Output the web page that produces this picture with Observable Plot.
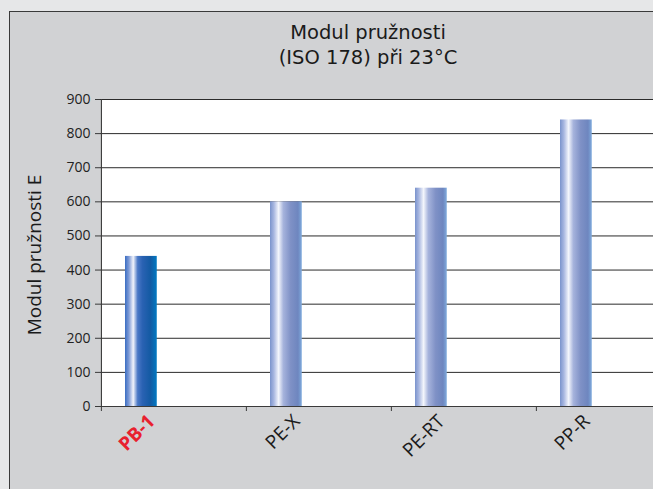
<!DOCTYPE html>
<html>
<head>
<meta charset="utf-8">
<script src="https://cdn.jsdelivr.net/npm/d3@7"></script>
<script src="https://cdn.jsdelivr.net/npm/@observablehq/plot@0.6"></script>
<style>
  html, body { margin: 0; padding: 0; width: 653px; height: 489px; overflow: hidden; background: #e6e7e8; font-family: "Open Sans", sans-serif; position: relative; }
  #panel { position: absolute; left: 9px; top: 11px; width: 720px; height: 520px; background: #d1d2d4; border: 1px solid #3a3a3a; }
  .title { position: absolute; left: 8px; width: 720px; text-align: center; font-family: "DejaVu Sans", sans-serif; font-size: 19.5px; line-height: 24px; height: 24px; color: #1a1a1a; white-space: nowrap; }
  #chart { position: absolute; left: 0; top: 0; }
  #chart svg { max-width: none !important; }
</style>
</head>
<body>
<div id="panel"></div>
<div class="title" style="top:21px;">Modul pružnosti</div>
<div class="title" style="top:46px;">(ISO 178) při 23°C</div>
<div id="chart"></div>
<script>
const categories = ["PB-1", "PE-X", "PE-RT", "PP-R"];
const values = [440, 600, 640, 840];
const yTicks = [0, 100, 200, 300, 400, 500, 600, 700, 800, 900];
const highlight = "PB-1";

const data = categories.map((c, i) => ({category: c, value: values[i]}));
const hi = data.filter(d => d.category === highlight);
const rest = data.filter(d => d.category !== highlight);

const W = 681, H = 489, mL = 100, mR = 0, mT = 99, mB = 83;
const bw = (W - mL - mR) / categories.length;
const barW = 32, barOff = 24;
const labelOpts = {x: "category", y: 0, text: "category", rotate: -45, textAnchor: "end", lineAnchor: "bottom", dx: -18, dy: 16, fontSize: 19};

const svg = Plot.plot({
  width: W, height: H,
  marginLeft: mL, marginRight: mR, marginTop: mT, marginBottom: mB,
  style: {background: "transparent", fontFamily: "Open Sans, sans-serif", overflow: "visible", maxWidth: "none"},
  x: {domain: categories, padding: 0},
  y: {domain: [0, 900]},
  marks: [
    Plot.frame({fill: "white", stroke: null}),
    Plot.gridY(yTicks, {stroke: "#2b2b2b", strokeOpacity: 1, strokeWidth: 1}),
    Plot.barY(hi, {x: "category", y: "value", fill: "url(#gradPB)", insetLeft: barOff, insetRight: bw - barOff - barW}),
    Plot.barY(rest, {x: "category", y: "value", fill: "url(#gradOther)", insetLeft: barOff, insetRight: bw - barOff - barW}),
    Plot.ruleY([0], {stroke: "#3a3a3a", strokeWidth: 1.2}),
    Plot.ruleX([categories[0]], {dx: -bw / 2, stroke: "#3a3a3a", strokeWidth: 1.2}),
    Plot.axisY({ticks: yTicks, tickSize: 5, tickPadding: 5, fontSize: 14, color: "#222", label: null, stroke: "#3a3a3a"}),
    Plot.axisX({tickSize: 5, tickFormat: () => "", dx: -bw / 2, stroke: "#3a3a3a", label: null}),
    Plot.text(hi, {...labelOpts, fill: "#e8202e", fontWeight: "bold"}),
    Plot.text(rest, {...labelOpts, fill: "#1a1a1a"}),
    Plot.text(["Modul pružnosti E"], {frameAnchor: "left", textAnchor: "middle", rotate: -90, dx: -66, dy: 2, fontSize: 19, fill: "#1a1a1a", lineAnchor: "middle"})
  ]
});
svg.style.maxWidth = "none";
svg.setAttribute("width", W);
svg.setAttribute("height", H);

svg.insertAdjacentHTML("afterbegin", `
<defs>
  <linearGradient id="gradPB" x1="0" x2="1" y1="0" y2="0">
    <stop offset="0" stop-color="#3a6dc2"/>
    <stop offset="0.12" stop-color="#7d9ad6"/>
    <stop offset="0.26" stop-color="#f2f4fb"/>
    <stop offset="0.40" stop-color="#4a78c6"/>
    <stop offset="0.55" stop-color="#2a62b3"/>
    <stop offset="0.80" stop-color="#135aa3"/>
    <stop offset="1" stop-color="#0079c2"/>
  </linearGradient>
  <linearGradient id="gradOther" x1="0" x2="1" y1="0" y2="0">
    <stop offset="0" stop-color="#7a93cc"/>
    <stop offset="0.12" stop-color="#a7b6e0"/>
    <stop offset="0.27" stop-color="#f4f6fc"/>
    <stop offset="0.42" stop-color="#a6b3dc"/>
    <stop offset="0.65" stop-color="#7f91c6"/>
    <stop offset="0.88" stop-color="#6e86bf"/>
    <stop offset="1" stop-color="#7fabdd"/>
  </linearGradient>
</defs>`);

document.getElementById("chart").appendChild(svg);
</script>
</body>
</html>
